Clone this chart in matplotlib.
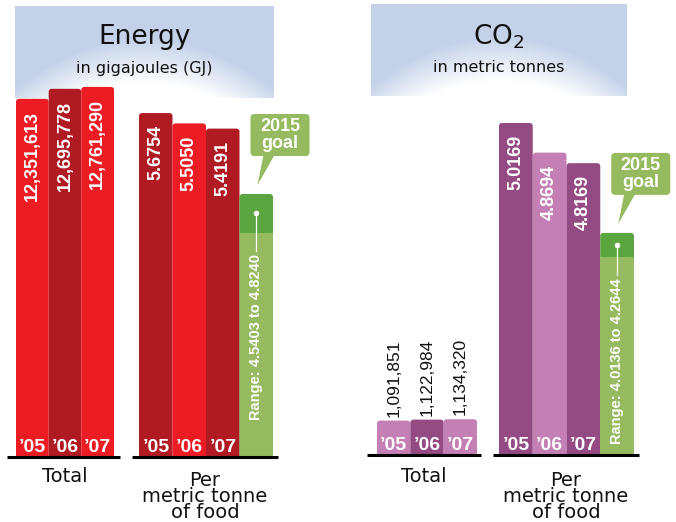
import numpy as np
import matplotlib.pyplot as plt
from matplotlib.patches import FancyBboxPatch, Polygon
from matplotlib.transforms import offset_copy

W, H = 676, 522

# data
years = ["\u201905", "\u201906", "\u201907"]

energy_total = [12351613, 12695778, 12761290]
energy_per_tonne = [5.6754, 5.5050, 5.4191]
energy_goal_range = (4.5403, 4.8240)
energy_goal_bar = (3.70, 4.34)  # drawn goal bar (split, top)

co2_total = [1091851, 1122984, 1134320]
co2_per_tonne = [5.0169, 4.8694, 4.8169]
co2_goal_range = (4.0136, 4.2644)
co2_goal_bar = (4.35, 4.47)

group_total = "Total"
group_per = "Per\nmetric tonne\nof food"

RED, DARK_RED = "#ED1C24", "#AF1A23"
PURPLE, LIGHT_PURPLE = "#944A83", "#C47FB4"
GREEN, DARK_GREEN = "#95BA5F", "#5BA541"
HEADER_BLUE = np.array([196, 210, 233]) / 255

plt.rcParams["font.family"] = ["DejaVu Sans"]
BOLD = ["Liberation Sans", "DejaVu Sans"]
NARROW = ["Liberation Sans Narrow", "Liberation Sans", "DejaVu Sans"]

fig = plt.figure(figsize=(W / 100, H / 100), dpi=100)

# overlay in pixel coordinates for headers, callouts and group labels
bg = fig.add_axes([0, 0, 1, 1], zorder=0)
bg.set_xlim(0, W)
bg.set_ylim(H, 0)
bg.axis("off")


def header(x0, x1, y0, y1, title, sub):
    nx, ny = 200, 120
    u = np.linspace(-1, 1, nx)[None, :]
    v = np.linspace(0, 1, ny)[:, None]
    start = 0.35 + 0.55 * u ** 2
    t = np.clip((v - start) / 0.5, 0, 1)
    img = HEADER_BLUE[None, None, :] * (1 - t[..., None]) + t[..., None]
    bg.imshow(img, extent=(x0, x1, y1, y0), aspect="auto", zorder=0,
              interpolation="bilinear")
    cx = (x0 + x1) / 2
    bg.text(cx, 37, title, ha="center", va="center", fontsize=19, color="#111111")
    bg.text(cx, 68, sub, ha="center", va="center", fontsize=11.5, color="#111111")


header(15, 274, 6, 98, "Energy", "in gigajoules (GJ)")
header(371, 627, 4, 96, r"CO$_\mathregular{2}$", "in metric tonnes")

TOP = 40


def panel(x0, x1, bx0, bx1, n, base, k, v0=0.0):
    ax = fig.add_axes([x0 / W, 1 - base / H, (x1 - x0) / W, (base - TOP) / H], zorder=2)
    bw = (bx1 - bx0) / n
    ax.set_xlim(-0.5 - (bx0 - x0) / bw, n - 0.5 + (x1 - bx1) / bw)
    ax.set_ylim(v0, v0 + (base - TOP) / k)
    ax.patch.set_visible(False)
    for s in ("left", "right", "top"):
        ax.spines[s].set_visible(False)
    ax.spines["bottom"].set_linewidth(2.2)
    ax.spines["bottom"].set_capstyle("butt")
    ax.spines["bottom"].set_zorder(5)
    ax.set_xticks([])
    ax.set_yticks([])
    ax.px = (bw, k)
    return ax


def rounded(ax, bars, r=3):
    # swap the square bar patches for ones with rounded corners
    bw, k = ax.px
    for p in bars:
        x, y, w, h = p.get_x(), p.get_y(), p.get_width(), p.get_height()
        fc = p.get_facecolor()
        p.remove()
        ax.add_patch(FancyBboxPatch((x, y - 6 / k), w, h + 6 / k,
                                    boxstyle=f"round,pad=0,rounding_size={r / bw}",
                                    mutation_aspect=bw / k, fc=fc, ec="none",
                                    lw=0, zorder=1))


def off(tr, dy):
    return offset_copy(tr, fig=fig, y=dy, units="dots")


def year_labels(ax, n):
    for i in range(n):
        ax.text(i, 0, years[i], ha="center", va="baseline", color="white",
                fontsize=14, fontweight="bold", family=NARROW, zorder=3,
                transform=off(ax.get_xaxis_transform(), 5))


def inside_labels(ax, values, fmt):
    for i, v in enumerate(values):
        ax.text(i, v, fmt.format(v), rotation=90, ha="center", va="top",
                color="white", fontsize=13, fontweight="bold", family=BOLD,
                zorder=3, transform=off(ax.transData, -12))


def goal(ax, bar, rng):
    bw, k = ax.px
    split, top = bar
    rounded(ax, ax.bar(3, top, width=1.0, color=DARK_GREEN, linewidth=0))
    ax.bar(3, split, width=1.0, color=GREEN, linewidth=0, zorder=2)
    mid = (split + top) / 2
    ax.plot([3, 3], [mid, split - 18 / k], color="white", lw=0.9, zorder=3)
    ax.plot(3, mid, "o", color="white", ms=4, mec="none", zorder=3)
    ax.text(3, split, "Range: {:.4f} to {:.4f}".format(*rng), rotation=90,
            ha="center", va="top", color="white", fontsize=10.5, zorder=3,
            fontweight="bold", family=BOLD, transform=off(ax.transData, -21))
    # callout in pixel space, anchored on the goal bar
    fig.canvas.draw()
    gx, gy = ax.transData.transform((2.5, top))
    gy = H - gy
    bx0, bx1, by0, by1 = gx + 11, gx + 70, gy - 80, gy - 38
    bg.add_patch(FancyBboxPatch((bx0, by0), bx1 - bx0, by1 - by0,
                                boxstyle="round,pad=0,rounding_size=4",
                                fc=GREEN, ec="none", zorder=3))
    bg.add_patch(Polygon([(gx + 24, by1 - 1), (gx + 35, by1 - 1), (gx + 18, gy - 9)],
                         closed=True, fc=GREEN, ec="none", zorder=3))
    bg.text((bx0 + bx1) / 2, (by0 + by1) / 2, "2015\ngoal", ha="center",
            va="center", color="white", fontsize=13, fontweight="bold",
            family=BOLD, linespacing=0.95, zorder=4)


# Energy total
K_TOTAL = 29.0e-6
ax1 = panel(7, 120, 16, 114, 3, 457, K_TOTAL)
rounded(ax1, ax1.bar(range(3), energy_total, width=1.0, color=[RED, DARK_RED, RED]))
inside_labels(ax1, energy_total, "{:,}")
year_labels(ax1, 3)

# Energy per tonne
K_E = 60.6
ax2 = panel(132, 278, 139, 273, 4, 457, K_E)
rounded(ax2, ax2.bar(range(3), energy_per_tonne, width=1.0, color=[DARK_RED, RED, DARK_RED]))
inside_labels(ax2, energy_per_tonne, "{:.4f}")
year_labels(ax2, 3)
goal(ax2, energy_goal_bar, energy_goal_range)

# CO2 total
ax3 = panel(367, 481, 377, 477, 3, 455, 31.5e-6)
rounded(ax3, ax3.bar(range(3), co2_total, width=1.0, color=[LIGHT_PURPLE, PURPLE, LIGHT_PURPLE]))
for i, v in enumerate(co2_total):
    ax3.text(i, v, f"{v:,}", rotation=90, ha="center", va="bottom", color="#111111",
             fontsize=12.5, family=BOLD, transform=off(ax3.transData, 4))
year_labels(ax3, 3)

# CO2 per tonne
K_C = 201.0
ax4 = panel(493, 639, 499, 634, 4, 455, K_C, v0=3.365)
rounded(ax4, ax4.bar(range(3), co2_per_tonne, width=1.0, color=[PURPLE, LIGHT_PURPLE, PURPLE]))
inside_labels(ax4, co2_per_tonne, "{:.4f}")
year_labels(ax4, 3)
goal(ax4, co2_goal_bar, co2_goal_range)

# group labels
for cx in (65, 424):
    bg.text(cx, 477, group_total, ha="center", va="center", fontsize=14, color="#111111")
for cx in (205, 566):
    bg.text(cx, 496, group_per, ha="center", va="center", fontsize=14,
            color="#111111", linespacing=0.8)

fig.savefig("out.png", dpi=100)
